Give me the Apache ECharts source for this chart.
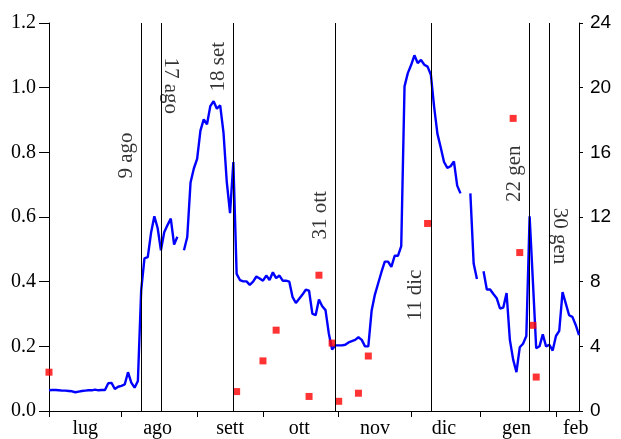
<!DOCTYPE html>
<html>
<head>
<meta charset="utf-8">
<script src="https://cdn.jsdelivr.net/npm/echarts@6/dist/echarts.min.js"></script>
<style>
html,body{margin:0;padding:0;background:#fff;}
#chart{width:621px;height:439px;}
</style>
</head>
<body>
<div id="chart"></div>
<script>
// ---- data (trading days from 2 Jul 2007 to 12 Feb 2008) ----
var startDate = '2007-07-02';
var blueValues = [
  0.064,0.065,0.065,0.064,0.063,0.063,0.062,0.061,0.058,0.060,0.062,0.063,0.064,0.064,0.066,0.064,0.065,0.065,
  0.086,0.087,0.068,0.075,0.078,0.082,0.120,0.088,0.072,0.093,
  0.373,0.472,0.476,0.551,0.602,0.566,0.497,0.553,0.575,0.595,0.515,0.539,null,0.497,0.538,0.707,0.750,0.780,
  0.867,0.902,0.887,0.943,0.958,0.935,0.945,0.862,0.709,0.612,0.770,0.424,
  0.405,0.401,0.401,0.390,0.400,0.416,0.410,0.403,0.419,0.405,0.429,0.411,0.419,0.403,0.403,0.400,0.352,0.334,
  0.347,0.360,0.375,0.372,0.301,0.296,0.345,0.324,0.312,0.240,0.190,0.203,0.203,0.203,0.205,0.212,
  0.216,0.220,0.228,0.220,0.200,0.200,0.310,0.360,0.395,0.430,0.462,0.462,0.446,0.480,0.480,0.510,
  1.004,1.045,1.070,1.100,1.076,1.086,1.071,1.065,1.040,0.940,0.857,0.815,0.770,0.752,0.757,0.772,0.697,0.673,
  null,null,
  0.673,0.456,0.408,
  null,
  0.432,0.376,0.376,0.362,0.349,0.317,0.320,0.365,0.220,0.159,0.120,0.197,0.208,0.232,0.602,0.400,0.194,0.200,
  0.237,0.200,0.205,0.187,0.232,0.248,0.368,0.332,0.296,0.291,0.266,0.235
];
var redDates = ['2007-07-02','2007-09-19','2007-10-01','2007-10-05','2007-10-19','2007-10-24','2007-10-30',
  '2007-11-01','2007-11-09','2007-11-14','2007-12-10','2008-01-15','2008-01-17','2008-01-23','2008-01-24'];
var redValues = [2.4,1.2,3.1,5.0,0.9,8.4,4.2,0.6,1.1,3.4,11.6,18.1,9.8,5.3,2.1];
var monthKeys = ['2007-07','2007-08','2007-09','2007-10','2007-11','2007-12','2008-01','2008-02'];
var monthNames = ['lug','ago','sett','ott','nov','dic','gen','feb'];
var eventDates = ['2007-08-09','2007-08-17','2007-09-18','2007-10-31','2007-12-11','2008-01-22','2008-01-30'];
var eventNames = ['9 ago','17 ago','18 set','31 ott','11 dic','22 gen','30 gen'];
var leftTicks = [0,0.2,0.4,0.6,0.8,1.0,1.2];
var rightTicks = [0,4,8,12,16,20,24];

// ---- categories: weekdays ----
var categories = [];
(function(){
  var p = startDate.split('-');
  var d = new Date(Date.UTC(+p[0], +p[1]-1, +p[2]));
  while (categories.length < blueValues.length) {
    var wd = d.getUTCDay();
    if (wd !== 0 && wd !== 6) categories.push(d.toISOString().slice(0,10));
    d.setUTCDate(d.getUTCDate()+1);
  }
})();
var N = categories.length;
var tickSet = {}, labelMap = {};
monthKeys.forEach(function(k, m){
  var first = -1, last = -1;
  categories.forEach(function(c,i){ if (c.indexOf(k) === 0) { if (first < 0) first = i; last = i; } });
  tickSet[first] = true;
  var mid = (last === N-1) ? last - 1 : Math.round((first+last)/2);
  labelMap[mid] = monthNames[m];
});

// layout of rotated event labels (value on left axis, side of the line)
var eventLabelLayout = [
  {y:0.79, side:'L'}, {y:1.006, side:'R'}, {y:1.065, side:'L'}, {y:0.605, side:'L'},
  {y:0.358, side:'L'}, {y:0.734, side:'L'}, {y:0.541, side:'R'}
];

var serif = 'Liberation Serif';
var chart = echarts.init(document.getElementById('chart'), null, {renderer:'canvas'});
chart.setOption({
  animation: false,
  backgroundColor: '#fff',
  grid: {left: 49, right: 42, top: 23, bottom: 24, containLabel: false},
  xAxis: {
    type: 'category', data: categories, boundaryGap: false,
    axisLine: {show: true, lineStyle: {color: '#000', width: 1}},
    axisTick: {show: true, length: 6, lineStyle: {color: '#000'},
      interval: function(i){ return !!tickSet[i]; }},
    axisLabel: {show: true, margin: 8, color: '#000', fontFamily: serif, fontSize: 20,
      interval: function(i){ return labelMap[i] !== undefined; },
      formatter: function(v, i){ return labelMap[i] || ''; }},
    splitLine: {show: false}
  },
  yAxis: [
    {type: 'value', position: 'left', min: leftTicks[0], max: leftTicks[leftTicks.length-1], interval: 0.2,
     axisLine: {show: true, lineStyle: {color: '#000', width: 1}},
     axisTick: {show: true, length: 10, lineStyle: {color: '#000'}},
     axisLabel: {margin: 13, color: '#000', fontFamily: serif, fontSize: 20,
       formatter: function(v){ return v.toFixed(1); }},
     splitLine: {show: false}},
    {type: 'value', position: 'right', min: rightTicks[0], max: rightTicks[rightTicks.length-1], interval: 4,
     axisLine: {show: true, lineStyle: {color: '#000', width: 1}},
     axisTick: {show: true, length: 4, lineStyle: {color: '#000'}},
     axisLabel: {margin: 11, color: '#000', fontFamily: 'Liberation Sans', fontSize: 19},
     splitLine: {show: false}}
  ],
  series: [
    {
      name: 'events', type: 'scatter', xAxisIndex: 0, yAxisIndex: 0, z: 1,
      symbolSize: 1, itemStyle: {color: 'rgba(0,0,0,0)'}, silent: true,
      data: eventDates.map(function(d, k){
        var L = eventLabelLayout[k];
        return {name: eventNames[k], value: [d, L.y],
          label: {rotate: L.side === 'L' ? 90 : -90, offset: [0, L.side === 'L' ? -15 : -10]}};
      }),
      label: {show: true, position: 'inside', align: 'center', verticalAlign: 'middle',
        formatter: '{b}', color: '#000', fontFamily: serif, fontSize: 21},
      markLine: {
        silent: true, symbol: ['none','none'], animation: false,
        lineStyle: {color: '#000', width: 1, type: 'solid'},
        label: {show: false},
        emphasis: {disabled: true},
        data: eventDates.map(function(d){ return {xAxis: d}; })
      }
    },
    {
      name: 'blue', type: 'line', xAxisIndex: 0, yAxisIndex: 0, z: 3,
      data: blueValues, showSymbol: false, connectNulls: false,
      lineStyle: {color: '#0000ff', width: 2.4}, itemStyle: {color: '#0000ff'}
    },
    {
      name: 'red', type: 'scatter', xAxisIndex: 0, yAxisIndex: 1, z: 4,
      symbol: 'rect', symbolSize: 7, itemStyle: {color: '#ff0000'},
      data: redDates.map(function(d, k){ return [d, redValues[k]]; })
    }
  ]
});
</script>
</body>
</html>
